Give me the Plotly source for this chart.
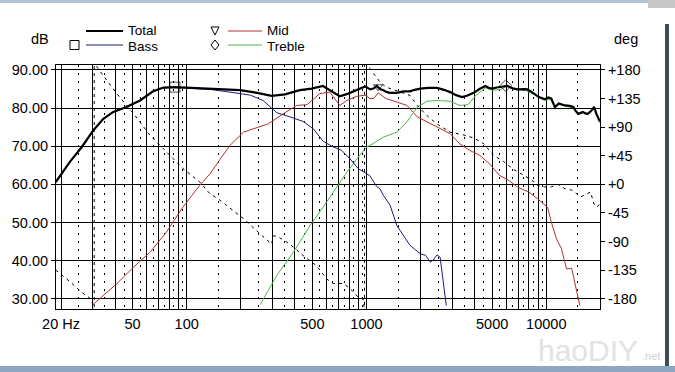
import plotly.graph_objects as go

# ---------------- data ----------------
total_freq = [18.7, 20, 22.4, 26.1, 30.3, 34.4, 39.0, 46.2, 55.0, 65.0, 74.2, 86, 104, 135, 153, 198,
              246, 297, 352, 426, 495, 573, 640, 711, 792, 884, 981, 1050, 1100, 1140, 1190, 1242,
              1300, 1354, 1475, 1606, 1746, 1850, 1992, 2200, 2468, 2700, 2919, 3150, 3398, 3650,
              3950, 4250, 4584, 4800, 4998, 5300, 5576, 6070, 6500, 6906, 7520, 7862, 8200, 8570,
              9100, 9770, 10300, 10670, 11150, 11760, 12700, 13500, 14130, 14600, 15080, 15970,
              16500, 17000, 17800, 18430, 19000, 19900]
total_db = [60.6, 62.6, 65.9, 69.8, 74.2, 77.2, 79.0, 80.3, 82.0, 84.4, 85.4, 85.5, 85.3, 85.1, 84.9, 84.7,
            84.0, 83.2, 83.6, 84.7, 85.1, 85.8, 84.4, 83.1, 83.8, 84.7, 85.7, 84.9, 85.2, 85.8, 85.0, 84.7,
            84.2, 84.0, 84.0, 84.4, 84.4, 84.8, 85.1, 85.3, 85.3, 84.8, 84.2, 83.4, 82.9, 83.3,
            84.0, 85.0, 85.8, 85.3, 85.1, 85.4, 85.5, 85.8, 85.2, 84.9, 85.0, 84.9, 84.4, 83.8,
            82.9, 82.3, 82.8, 82.5, 80.3, 81.2, 80.7, 80.6, 80.3, 79.2, 78.5, 79.0,
            78.6, 78.5, 79.3, 80.3, 78.5, 76.4]

bass_freq = [18.7, 22.4, 26.1, 30.3, 34.4, 39, 46.2, 55, 65, 74.2, 86, 104, 135, 174, 226, 266, 317,
             375, 444, 506, 574, 653, 728, 810, 901, 1003, 1046, 1137, 1190, 1242, 1354, 1475, 1606,
             1746, 1992, 2130, 2266, 2345, 2468, 2568, 2660, 2780]
bass_db = [60.5, 65.8, 69.7, 74.1, 77.1, 78.9, 80.2, 81.9, 84.3, 85.3, 85.4, 85.2, 84.9, 84.2, 83.4, 82.0, 78.8,
           77.7, 76.5, 74.6, 71.3, 69.8, 68.9, 66.7, 64.1, 62.8, 62.2, 59.5, 58.8, 57.1, 54.5, 49.2, 46.6,
           44.0, 41.8, 41.4, 39.6, 40.1, 41.5, 40.9, 35.2, 28.2]

mid_freq = [30.0, 40.8, 50.7, 62.6, 77.2, 95.2, 118, 135, 153, 174, 207, 246, 285, 344, 409, 467, 550,
            625, 711, 778, 884, 981, 1046, 1098, 1162, 1285, 1475, 1680, 1917, 2173, 2468, 2919, 3310,
            3755, 4270, 4830, 5476, 6210, 6906, 7990, 8940, 10170, 10670, 11390, 12150, 12970, 13840,
            14430, 15370]
mid_db = [28.4, 33.9, 38.3, 42.2, 47.5, 54.0, 59.7, 62.8, 66.5, 70.2, 73.7, 75.0, 75.9, 78.5, 80.7, 80.9, 83.8,
          84.2, 80.7, 82.0, 83.1, 83.4, 82.5, 82.5, 84.0, 82.5, 81.6, 80.7, 77.7, 76.4, 75.0, 73.3, 70.6,
          68.9, 67.6, 65.4, 62.4, 61.0, 59.3, 58.0, 56.2, 54.0, 50.1, 45.7, 43.1, 37.8, 38.0,
          34.4, 28.2]

treble_freq = [256, 317, 392, 486, 601, 744, 884, 1003, 1046, 1190, 1242, 1475, 1680, 1917, 2173, 2468,
               2919, 3310, 3670, 4070, 4584, 4998, 5576, 6070, 6500, 7520, 8570, 9770, 10670, 11150,
               11760, 12700, 14130, 15080, 15970, 17000, 18430, 19900]
treble_db = [28.4, 36.1, 42.2, 49.2, 55.4, 61.9, 66.7, 69.8, 70.2, 72.0, 72.4, 73.7, 76.4, 80.3, 81.8, 82.0,
             81.8, 80.7, 80.9, 83.4, 85.3, 84.7, 84.9, 85.8, 85.0, 84.8, 83.6, 82.1, 82.3, 80.0,
             81.0, 80.5, 80.1, 78.3, 78.8, 78.3, 80.1, 76.2]

phase_freq = [18.7, 22.4, 26.1, 29.6, 30.6, 30.6, 31.8, 34.4, 40.8, 50.7, 62.6, 74.2, 95.2, 118, 135, 150,
              167, 207, 256, 297, 303, 320, 375, 444, 527, 601, 653, 744, 810, 901, 960, 975, 975,
              1046, 1098, 1190, 1285, 1529, 1746, 1917, 2173, 2468, 2919, 3445, 3950, 4490, 4880,
              5080, 5780, 6620, 7520, 8570, 8940, 9770, 10670, 11650, 12700, 13840, 14770, 15440,
              16880, 17620, 18430, 19170, 19900]
phase_deg = [-135, -153, -170, -181, -200, 200, 184, 171, 143, 111, 77, 56, 25, 4, -15, -23,
             -33, -54, -78, -94, -81, -82, -94, -112, -128, -149, -156, -156, -164, -178, -181, -200, 200,
             182, 174, 161, 153, 145, 140, 124, 108, 95, 82, 78, 73, 64, 51,
             46, 36, 23, 14, 4, -2, -4, -4, 0, -7, -9, -15, -20,
             -15, -12, -31, -36, -30]

marker_freq = [86, 1160, 5950]
marker_db = [85.5, 85.6, 85.9]
marker_symbols = ["square-open", "triangle-down-open", "diamond-open"]

x_major = [20, 30, 40, 50, 60, 70, 80, 90, 100, 200, 300, 400, 500, 600, 700, 800, 900,
           1000, 2000, 3000, 4000, 5000, 6000, 7000, 8000, 9000, 10000]
x_major_text = ["20 Hz", "", "", "50", "", "", "", "", "100", "", "", "", "500", "", "", "", "",
                "1000", "", "", "", "5000", "", "", "", "", "10000"]
x_minor = [25, 35, 45, 55, 65, 75, 85, 95, 150, 250, 350, 450, 550, 650, 750, 850, 950,
           1500, 2500, 3500, 4500, 5500, 6500, 7500, 8500, 9500, 15000]
y_ticks = [30, 40, 50, 60, 70, 80, 90]
y_text = ["30.00", "40.00", "50.00", "60.00", "70.00", "80.00", "90.00"]
y2_ticks = [-180, -135, -90, -45, 0, 45, 90, 135, 180]
y2_text = ["-180", "-135", "-90", "-45", "+0", "+45", "+90", "+135", "+180"]

legend_names = ["Total", "Bass", "Mid", "Treble"]

# ---------------- style ----------------
FONT = "Liberation Sans, Arial, sans-serif"
FS = 14.5
FS_LEG = 13.5
C_TOTAL = "#000000"
C_BASS = "#1c1c7a"
C_MID = "#b03232"
C_TREB = "#4cb84c"

W, H = 675, 372
ML, MR, MT, MB = 56, 75, 65, 63
PW, PH = W - ML - MR, H - MT - MB


def px(xp):
    return (xp - ML) / PW


def py(yp):
    return (H - MB - yp) / PH


Y_LO, Y_HI = 27.30, 91.31

fig = go.Figure()
fig.add_trace(go.Scatter(x=mid_freq, y=mid_db, mode="lines", line=dict(color=C_MID, width=1), showlegend=False))
fig.add_trace(go.Scatter(x=treble_freq, y=treble_db, mode="lines", line=dict(color=C_TREB, width=1), showlegend=False))
fig.add_trace(go.Scatter(x=bass_freq, y=bass_db, mode="lines", line=dict(color=C_BASS, width=1), showlegend=False))
fig.add_trace(go.Scatter(x=total_freq, y=total_db, mode="lines", line=dict(color=C_TOTAL, width=2.2), showlegend=False))
fig.add_trace(go.Scatter(x=marker_freq, y=marker_db, mode="markers",
                         marker=dict(symbol=marker_symbols, size=[10, 8, 9], color="black",
                                     line=dict(color="black", width=1)), showlegend=False))
fig.add_trace(go.Scatter(x=phase_freq, y=phase_deg, mode="lines", yaxis="y2",
                         line=dict(color="black", width=1, dash="3px,4px"), showlegend=False))

fig.update_layout(
    width=W, height=H, autosize=False,
    margin=dict(l=ML, r=MR, t=MT, b=MB, pad=0),
    paper_bgcolor="white", plot_bgcolor="white",
    font=dict(family=FONT, size=FS, color="black"),
    xaxis=dict(type="log", range=[1.2732, 4.2988], tickmode="array", tickvals=x_major,
               ticktext=x_major_text, showgrid=True, gridcolor="black", gridwidth=1,
               showline=True, linecolor="black", linewidth=1, mirror=True, ticks="",
               zeroline=False, ticklabelstandoff=2,
               minor=dict(tickmode="array", tickvals=x_minor, showgrid=True, gridcolor="black",
                          gridwidth=1, griddash="2px,6px", ticks="")),
    yaxis=dict(range=[Y_LO, Y_HI], tickmode="array", tickvals=y_ticks, ticktext=y_text,
               showgrid=True, gridcolor="black", gridwidth=1, showline=True, linecolor="black",
               linewidth=1, mirror=True, ticks="outside", ticklen=4, tickcolor="black",
               zeroline=False),
    yaxis2=dict(range=[(Y_LO - 60) * 6, (Y_HI - 60) * 6], overlaying="y", side="right",
                tickmode="array", tickvals=y2_ticks, ticktext=y2_text, showgrid=False,
                zeroline=False, ticks="outside", ticklen=4, tickcolor="black", showline=False),
)

shapes = []
annotations = []
# legend: top row text sits above the split line, bottom row text below it
SPLIT = 38.5
line_rows = [(86, 123, 31, C_TOTAL, 2.2), (86, 123, 45, C_BASS, 1), (228, 262, 31, C_MID, 1), (228, 262, 45, C_TREB, 1)]
label_pos = [(127, "bottom"), (127, "top"), (266, "bottom"), (266, "top")]
for (x0, x1, yy, col, w), name, (lx, anch) in zip(line_rows, legend_names, label_pos):
    shapes.append(dict(type="line", xref="paper", yref="paper", x0=px(x0), x1=px(x1), y0=py(yy), y1=py(yy),
                       line=dict(color=col, width=w)))
    yy_text = SPLIT + (0.5 if anch == "bottom" else -1.0)
    annotations.append(dict(xref="paper", yref="paper", x=px(lx), y=py(yy_text), text=name, showarrow=False,
                            xanchor="left", yanchor=anch, borderpad=0, font=dict(size=FS_LEG)))
# legend symbols
shapes.append(dict(type="rect", xref="paper", yref="paper", x0=px(70), x1=px(79), y0=py(49.5), y1=py(40.5),
                   line=dict(color="black", width=1)))
shapes.append(dict(type="path", xref="paper", yref="paper",
                   path=f"M {px(211)} {py(27)} L {px(219)} {py(27)} L {px(215)} {py(35)} Z",
                   line=dict(color="black", width=1)))
shapes.append(dict(type="path", xref="paper", yref="paper",
                   path=f"M {px(215)} {py(40)} L {px(219)} {py(45)} L {px(215)} {py(50)} L {px(211)} {py(45)} Z",
                   line=dict(color="black", width=1)))
annotations.append(dict(xref="paper", yref="paper", x=px(40), y=py(39), text="dB", showarrow=False,
                        xanchor="center", yanchor="middle", font=dict(size=FS)))
annotations.append(dict(xref="paper", yref="paper", x=px(626), y=py(39), text="deg", showarrow=False,
                        xanchor="center", yanchor="middle", font=dict(size=FS)))
# window chrome
shapes.append(dict(type="rect", xref="paper", yref="paper", x0=px(0), x1=px(675), y0=py(3), y1=py(0),
                   line=dict(width=0), fillcolor="#b4c4d6", layer="below"))
shapes.append(dict(type="rect", xref="paper", yref="paper", x0=px(648), x1=px(675), y0=py(8), y1=py(0),
                   line=dict(width=0), fillcolor="#c8c8c8", layer="below"))
shapes.append(dict(type="rect", xref="paper", yref="paper", x0=px(665), x1=px(669), y0=py(366), y1=py(24),
                   line=dict(width=0), fillcolor="#3e4c5e", layer="below"))
shapes.append(dict(type="rect", xref="paper", yref="paper", x0=px(0), x1=px(675), y0=py(372), y1=py(366),
                   line=dict(width=0), fillcolor="#8fa6c0", layer="below"))
# watermark
annotations.append(dict(xref="paper", yref="paper", x=px(640), y=py(350), text="haoDIY", showarrow=False,
                        xanchor="right", yanchor="middle",
                        font=dict(size=30, color="#e2e2e2", family=FONT)))
annotations.append(dict(xref="paper", yref="paper", x=px(662), y=py(356), text=".net", showarrow=False,
                        xanchor="right", yanchor="middle",
                        font=dict(size=11, color="#d0d0d0", family=FONT)))

fig.update_layout(shapes=shapes, annotations=annotations)
fig.write_html("out.html", config={"displayModeBar": False},
               post_script="document.body.style.margin='0';document.body.style.overflow='hidden';")
